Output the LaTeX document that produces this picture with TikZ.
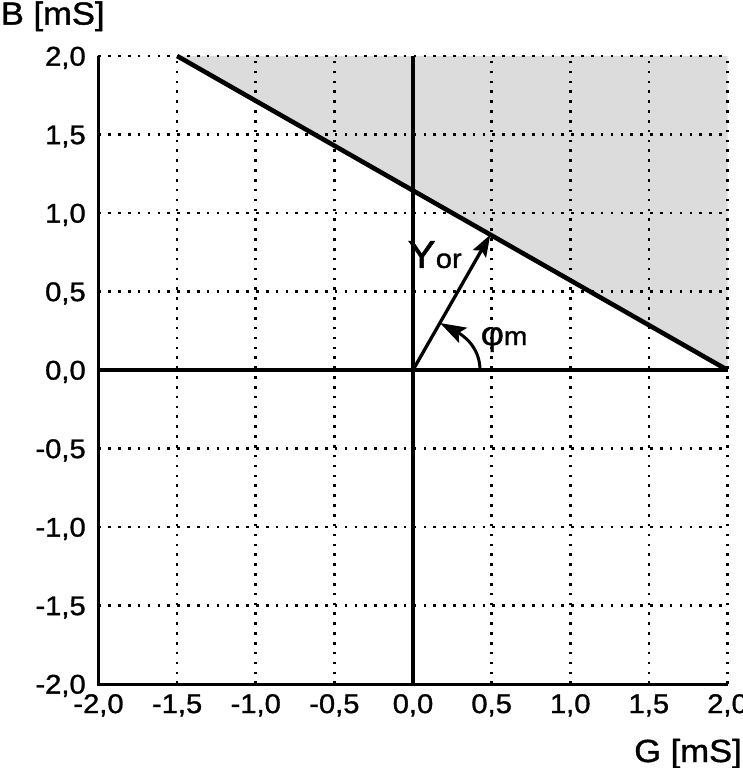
\documentclass[tikz,border=0pt]{standalone}
\usepackage{fontspec}
\setmainfont[FakeBold=1.2,FakeStretch=1.08]{Liberation Sans}
\usetikzlibrary{arrows.meta}
\definecolor{shadegray}{RGB}{220,220,220}
\tikzset{
  griddot/.style={line width=2.6bp, dash pattern=on 2.6bp off 7.25bp, line cap=butt},
  axisline/.style={line width=3bp},
  limitline/.style={line width=4.6bp},
  vec/.style={line width=3.3bp, -{Stealth[length=22bp,width=15bp,inset=4bp]}},
  anglearr/.style={line width=3bp, -{Stealth[length=26bp,width=17bp,inset=5bp]}},
  ticklbl/.style={font=\fontsize{27bp}{30bp}\selectfont, inner sep=0pt},
  axislbl/.style={font=\fontsize{32bp}{36bp}\selectfont, inner sep=0pt},
}
\begin{document}
\begin{tikzpicture}[x=157.25bp,y=157bp]
\useasboundingbox (-413bp,-398bp) rectangle (330bp,370bp);
% shaded region
\fill[shadegray] (-1.5,2) -- (2,2) -- (2,0) -- cycle;
% dotted grid
\foreach \v in {-1.5,-1,-0.5,0.5,1,1.5} {
  \draw[griddot] (\v,-2) -- (\v,2);
  \draw[griddot] (-2,\v) -- (2,\v);
}
\draw[griddot] (-2,2) -- (2,2);
\draw[griddot] (2,-2) -- (2,2);
% frame and axes
\coordinate (bl) at (-2,-2);
\coordinate (tl) at (-2,2);
\coordinate (br) at (2,-2);
\draw[axisline] (tl) -- (bl) -- (br);
\coordinate (yb) at (0,-2);
\coordinate (yt) at (0,2);
\coordinate (xl) at (-2,0);
\coordinate (xr) at (2,0);
\draw[axisline] (yb) -- (yt);
\draw[axisline] (xl) -- (xr);
% limit line
\coordinate (p1) at (-1.5,2);
\coordinate (p2) at (2,0);
\draw[limitline] (p1) -- (p2);
% vector
\coordinate (o) at (0,0);
\coordinate (yor) at (0.492,0.862);
\draw[vec] (o) -- (yor);
% angle
\coordinate (a0) at (0.426,0);
\coordinate (a1) at (0.172,0.299);
\draw[anglearr] (a0) to[out=90,in=-28] (a1);
% labels
\node[anchor=base west, inner sep=0pt] (ylab) at (-0.035,0.650)
  {\fontsize{39bp}{42bp}\selectfont Y\fontsize{27bp}{30bp}\selectfont or};
\node[anchor=base west, inner sep=0pt] (philab) at (0.43,0.159)
  {\fontsize{33bp}{36bp}\selectfont φ\fontsize{26bp}{30bp}\selectfont m};
\node[axislbl, anchor=base west] (blab) at (-2.622,2.200) {B [mS]};
\node[axislbl, anchor=base east] (glab) at (2.092,-2.497) {G [mS]};
% tick labels
\foreach \v/\t in {2/{2,0},1.5/{1,5},1/{1,0},0.5/{0,5},0/{0,0},-0.5/{-0,5},-1/{-1,0},-1.5/{-1,5},-2/{-2,0}} {
  \node[ticklbl, anchor=base east] at ([yshift=-9.6bp]-2.08,\v) {\t};
}
\foreach \v/\t in {-2/{-2,0},-1.5/{-1,5},-1/{-1,0},-0.5/{-0,5},0/{0,0},0.5/{0,5},1/{1,0},1.5/{1,5},2/{2,0}} {
  \node[ticklbl, anchor=base] at (\v,-2.185) {\t};
}
\end{tikzpicture}
\end{document}
